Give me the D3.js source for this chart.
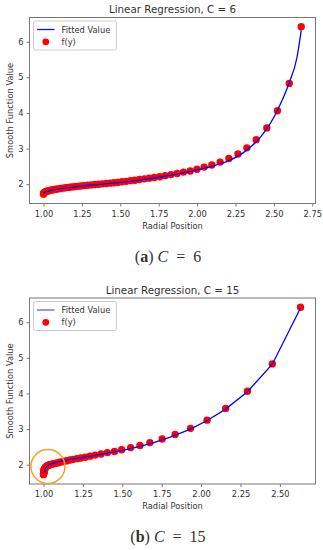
<!DOCTYPE html>
<html>
<head>
<meta charset="utf-8">
<script src="https://cdn.jsdelivr.net/npm/d3@7"></script>
<style>
  body { margin: 0; background: #fff; }
  svg text { font-family: "DejaVu Sans", sans-serif; fill: #333; }
</style>
</head>
<body>
<svg id="chart" width="323" height="550"></svg>
<script>
// shared f(y) values (sampled nodes, top to bottom)
const fyValues = [6.42, 4.83, 4.06, 3.58, 3.25, 3.02, 2.85, 2.72, 2.62, 2.54,
  2.48, 2.42, 2.37, 2.34, 2.30, 2.27, 2.24, 2.21, 2.19, 2.17,
  2.15, 2.13, 2.11, 2.10, 2.08, 2.07, 2.05, 2.04, 2.03, 2.02,
  2.01, 2.00, 1.99, 1.98, 1.97, 1.96, 1.95, 1.94, 1.93, 1.92,
  1.91, 1.90, 1.89, 1.88, 1.87, 1.86, 1.85, 1.84, 1.83, 1.82,
  1.81, 1.80, 1.79, 1.78, 1.77, 1.76, 1.75, 1.74, 1.72];

// radial positions, C = 6
const radialA = [2.678, 2.600, 2.523, 2.454, 2.385, 2.324, 2.266, 2.207, 2.150, 2.096,
  2.046, 1.999, 1.955, 1.911, 1.870, 1.830, 1.792, 1.756, 1.721, 1.688,
  1.656, 1.625, 1.595, 1.566, 1.538, 1.511, 1.484, 1.458, 1.433, 1.408,
  1.383, 1.359, 1.335, 1.311, 1.288, 1.265, 1.243, 1.222, 1.201, 1.181,
  1.162, 1.144, 1.127, 1.111, 1.096, 1.082, 1.069, 1.057, 1.046, 1.037,
  1.029, 1.022, 1.016, 1.011, 1.007, 1.004, 1.002, 1.001, 1.000];

// radial positions, C = 15
const radialB = [2.631, 2.452, 2.294, 2.156, 2.038, 1.933, 1.835, 1.753, 1.675, 1.612,
  1.553, 1.496, 1.450, 1.405, 1.365, 1.328, 1.295, 1.265, 1.237, 1.212,
  1.189, 1.168, 1.149, 1.132, 1.116, 1.102, 1.089, 1.077, 1.066, 1.057,
  1.048, 1.040, 1.034, 1.029, 1.025, 1.021, 1.018, 1.016, 1.014, 1.012,
  1.010, 1.009, 1.008, 1.007, 1.006, 1.005, 1.004, 1.004, 1.003, 1.003,
  1.002, 1.002, 1.002, 1.001, 1.001, 1.001, 1.001, 1.000, 1.000];

// fitted curves
const fitAx = [1.000, 1.02, 1.05, 1.10, 1.20, 1.30, 1.40, 1.50, 1.60, 1.70, 1.80, 1.90,
  2.00, 2.10, 2.20, 2.30, 2.40, 2.45, 2.50, 2.55, 2.60, 2.65, 2.678];
const fitAy = [1.75, 1.79, 1.83, 1.87, 1.92, 1.97, 2.01, 2.05, 2.10, 2.16, 2.23, 2.31,
  2.40, 2.51, 2.65, 2.88, 3.26, 3.53, 3.88, 4.32, 4.85, 5.55, 6.32];

const fitBx = [1.003, 1.010, 1.020, 1.040, 1.070, 1.120, 1.20, 1.30, 1.40, 1.50, 1.60,
  1.70, 1.80, 1.933, 2.038, 2.156, 2.294, 2.452, 2.631];
const fitBy = [1.78, 1.88, 1.95, 2.01, 2.06, 2.11, 2.17, 2.24, 2.32, 2.40, 2.50,
  2.62, 2.77, 3.00, 3.24, 3.56, 4.05, 4.82, 6.40];

const xTicksA = [1.00, 1.25, 1.50, 1.75, 2.00, 2.25, 2.50, 2.75];
const xTicksB = [1.00, 1.25, 1.50, 1.75, 2.00, 2.25, 2.50];
const yTicks = [2, 3, 4, 5, 6];

const svg = d3.select('#chart');

function drawPanel(opt) {
  const left = 29.5, right = 315.5;
  const top = opt.top, bottom = opt.top + 186;

  const x = d3.scaleLinear().domain(opt.xDomain).range([left, right]);
  const y = d3.scaleLinear().domain([1.458, 6.68]).range([bottom, top]);

  const g = svg.append('g');

  // title
  g.append('text')
    .attr('x', (left + right) / 2)
    .attr('y', top - 4.5)
    .attr('text-anchor', 'middle')
    .style('font-size', '10.3px')
    .text(opt.title);

  const clipId = 'clip' + opt.key;
  g.append('clipPath').attr('id', clipId)
    .append('rect')
    .attr('x', left).attr('y', top)
    .attr('width', right - left).attr('height', bottom - top);

  const plot = g.append('g').attr('clip-path', 'url(#' + clipId + ')');

  // scatter f(y)
  plot.selectAll('circle')
    .data(opt.px.map((d, i) => [d, fyValues[i]]))
    .enter()
    .append('circle')
    .attr('cx', d => x(d[0]))
    .attr('cy', d => y(d[1]))
    .attr('r', 3.7)
    .attr('fill', '#ff0000');

  // fitted line
  plot.append('path')
    .datum(opt.fx.map((d, i) => [d, opt.fy[i]]))
    .attr('fill', 'none')
    .attr('stroke', '#0000ff')
    .attr('stroke-width', 1.3)
    .attr('d', d3.line()
      .x(d => x(d[0]))
      .y(d => y(d[1]))
      .curve(opt.curve));

  // axes
  const xAxis = g.append('g')
    .attr('transform', 'translate(0,' + bottom + ')')
    .call(d3.axisBottom(x).tickValues(opt.xTicks).tickFormat(d3.format('.2f'))
      .tickSize(3).tickSizeOuter(0));
  const yAxis = g.append('g')
    .attr('transform', 'translate(' + left + ',0)')
    .call(d3.axisLeft(y).tickValues(yTicks).tickFormat(d3.format('d'))
      .tickSize(3).tickSizeOuter(0));
  [xAxis, yAxis].forEach(a => {
    a.select('.domain').remove();
    a.selectAll('line').attr('stroke', '#777');
    a.selectAll('text')
      .style('font-family', '"DejaVu Sans", sans-serif')
      .style('font-size', '8.3px')
      .attr('fill', '#333');
  });
  xAxis.selectAll('text').attr('dy', '0.9em');

  // frame
  g.append('rect')
    .attr('x', left).attr('y', top)
    .attr('width', right - left).attr('height', bottom - top)
    .attr('fill', 'none')
    .attr('stroke', '#777')
    .attr('stroke-width', 1);

  // axis labels
  g.append('text')
    .attr('x', (left + right) / 2)
    .attr('y', bottom + 25)
    .attr('text-anchor', 'middle')
    .style('font-size', '8.3px')
    .text('Radial Position');

  g.append('text')
    .attr('transform', 'translate(12.5,' + (top + bottom) / 2 + ') rotate(-90)')
    .attr('text-anchor', 'middle')
    .style('font-size', '8.3px')
    .text('Smooth Function Value');

  // legend
  const lg = g.append('g').attr('transform', 'translate(' + (left + 4) + ',' + (top + 3.5) + ')');
  lg.append('rect')
    .attr('width', 83).attr('height', 29)
    .attr('rx', 2)
    .attr('fill', 'rgba(255,255,255,0.8)')
    .attr('stroke', '#ccc');
  lg.append('line')
    .attr('x1', 3.5).attr('x2', 21).attr('y1', 8.5).attr('y2', 8.5)
    .attr('stroke', opt.legendBlue).attr('stroke-width', 1.3);
  lg.append('text').attr('x', 28).attr('y', 11.5)
    .style('font-size', '8.3px').text('Fitted Value');
  lg.append('circle').attr('cx', 12.3).attr('cy', 20.8).attr('r', 3.4)
    .attr('fill', '#ff0000');
  lg.append('text').attr('x', 28).attr('y', 23.8)
    .style('font-size', '8.3px').text('f(y)');

  // caption
  const cap = svg.append('text')
    .attr('x', 168)
    .attr('y', bottom + 58)
    .attr('text-anchor', 'middle')
    .style('font-family', '"Liberation Serif", serif')
    .style('font-size', '16px')
    .attr('fill', '#111');
  cap.append('tspan').text('(');
  cap.append('tspan').style('font-weight', 'bold').text(opt.letter);
  cap.append('tspan').text(') ');
  cap.append('tspan').style('font-style', 'italic').text('C');
  cap.append('tspan').text('\u2002=\u2002' + opt.cValue);

  return { x, y, g };
}

drawPanel({
  key: 'a', top: 17.5, title: 'Linear Regression, C = 6',
  xDomain: [0.909, 2.771], xTicks: xTicksA,
  px: radialA, fx: fitAx, fy: fitAy, curve: d3.curveMonotoneX,
  letter: 'a', cValue: '6', legendBlue: '#1010ff'
});

const pb = drawPanel({
  key: 'b', top: 298, title: 'Linear Regression, C = 15',
  xDomain: [0.911, 2.726], xTicks: xTicksB,
  px: radialB, fx: fitBx, fy: fitBy, curve: d3.curveLinear,
  letter: 'b', cValue: '15', legendBlue: '#5a5aff'
});

// highlight circle around the low end of panel b
pb.g.append('ellipse')
  .attr('cx', pb.x(1.028))
  .attr('cy', pb.y(1.95))
  .attr('rx', 17).attr('ry', 17)
  .attr('fill', 'none')
  .attr('stroke', '#f5a020')
  .attr('stroke-width', 1.5);
</script>
</body>
</html>
